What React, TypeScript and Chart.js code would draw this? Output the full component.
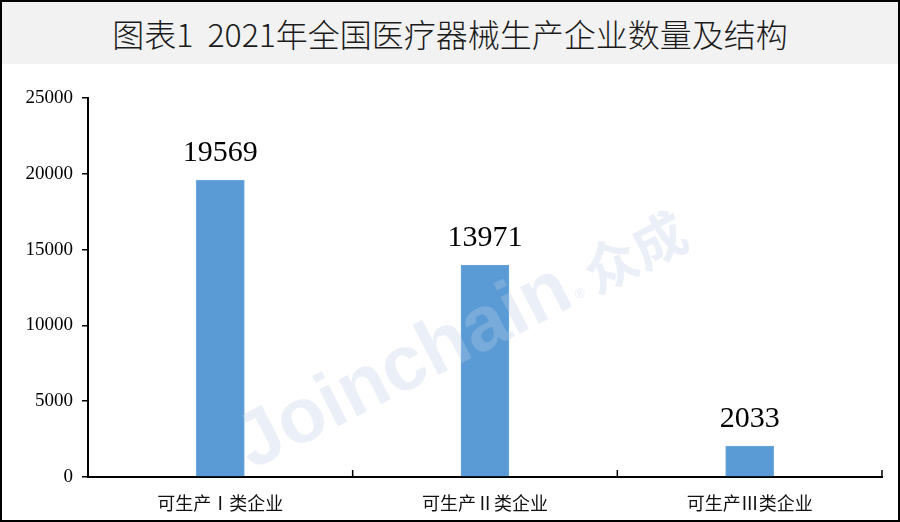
import React, { useEffect, useRef } from "react";
import { Chart, registerables } from "chart.js";

Chart.register(...registerables);

const categories = ["可生产Ⅰ类企业", "可生产Ⅱ类企业", "可生产Ⅲ类企业"];
const companyCounts = [19569, 13971, 2033];
const yTicks = [0, 5000, 10000, 15000, 20000, 25000];
const titleText = "图表1  2021年全国医疗器械生产企业数量及结构";

const CANVAS_W = 896;
const CANVAS_H = 456;

const xTickPlugin = {
  id: "xTickMarks",
  afterDraw(chart: any) {
    const x = chart.scales.x;
    const ctx = chart.ctx;
    const n = categories.length;
    if (n < 1) return;
    const step = n > 1 ? x.getPixelForValue(1) - x.getPixelForValue(0) : x.width;
    const bottom = chart.chartArea.bottom;
    ctx.save();
    ctx.strokeStyle = "#000";
    ctx.lineWidth = 1.5;
    for (let i = 0; i < n; i++) {
      const bx = x.getPixelForValue(i) + step / 2;
      ctx.beginPath();
      ctx.moveTo(bx, bottom);
      ctx.lineTo(bx, bottom - 7);
      ctx.stroke();
    }
    ctx.restore();
  },
};

const watermarkPlugin = {
  id: "watermark",
  afterDatasetsDraw(chart: any) {
    const ctx = chart.ctx;
    ctx.save();
    ctx.translate(250, 406);
    ctx.rotate((-27 * Math.PI) / 180);
    ctx.fillStyle = "rgba(190,205,232,0.3)";
    ctx.textBaseline = "alphabetic";
    ctx.font = "bold 78px 'Liberation Sans', Arial, sans-serif";
    ctx.fillText("Joinchain", 0, 0);
    const w = ctx.measureText("Joinchain").width;
    ctx.font = "bold 14px 'Liberation Sans', Arial, sans-serif";
    ctx.fillText("®", w + 3, -4);
    ctx.font = "bold 54px 'Noto Sans CJK SC', sans-serif";
    ctx.fillText("众成", w + 22, 0);
    ctx.restore();
  },
};

const valueLabelPlugin = {
  id: "valueLabels",
  afterDatasetsDraw(chart: any) {
    const ctx = chart.ctx;
    const meta = chart.getDatasetMeta(0);
    ctx.save();
    ctx.fillStyle = "#000";
    ctx.font = "30px 'Liberation Serif', 'Times New Roman', serif";
    ctx.textAlign = "center";
    ctx.textBaseline = "alphabetic";
    meta.data.forEach((bar: any, i: number) => {
      ctx.fillText(String(companyCounts[i]), bar.x, bar.y - 19);
    });
    ctx.restore();
  },
};

export default function App() {
  const canvasRef = useRef<HTMLCanvasElement | null>(null);

  useEffect(() => {
    document.body.style.margin = "0";
    const canvas = canvasRef.current;
    if (!canvas) return;
    const chart = new Chart(canvas, {
      type: "bar",
      data: {
        labels: categories,
        datasets: [
          {
            data: companyCounts,
            backgroundColor: "#5b9bd5",
            borderColor: "#6aa7dd",
            borderWidth: 1,
            barThickness: 48,
          },
        ],
      },
      options: {
        animation: false,
        responsive: false,
        maintainAspectRatio: false,
        layout: { padding: { left: 0, right: 16, top: 34, bottom: 0 } },
        plugins: {
          legend: { display: false },
          tooltip: { enabled: false },
          title: { display: false },
        },
        scales: {
          x: {
            grid: { display: false },
            border: { display: true, color: "#000", width: 2 },
            ticks: {
              color: "#111",
              padding: 7,
              font: { family: "'Noto Sans CJK SC', sans-serif", size: 18 },
              maxRotation: 0,
            },
            afterFit(scale: any) {
              scale.height = 43;
            },
          },
          y: {
            min: 0,
            max: 25000,
            afterBuildTicks(scale: any) {
              scale.ticks = yTicks.map((v) => ({ value: v }));
            },
            grid: {
              drawOnChartArea: false,
              drawTicks: true,
              tickLength: 6,
              color: "#000",
              lineWidth: 1.5,
            },
            border: { display: true, color: "#000", width: 2 },
            ticks: {
              color: "#000",
              padding: 9,
              font: { family: "'Liberation Serif', 'Times New Roman', serif", size: 19 },
              callback: (v: any) => String(v),
            },
            afterFit(scale: any) {
              scale.width = 86;
            },
          },
        },
      },
      plugins: [xTickPlugin, watermarkPlugin, valueLabelPlugin],
    });
    return () => chart.destroy();
  }, []);

  return (
    <div
      style={{
        width: 900,
        height: 522,
        boxSizing: "border-box",
        border: "2px solid #000",
        background: "#fff",
        overflow: "hidden",
      }}
    >
      <div
        style={{
          height: 62,
          background: "#f2f2f2",
          textAlign: "center",
          lineHeight: "62px",
          fontFamily: "'Noto Sans CJK SC', sans-serif",
          fontSize: 32,
          fontWeight: 300,
          color: "#1a1a1a",
          whiteSpace: "pre",
        }}
      >
        {titleText}
      </div>
      <canvas
        ref={canvasRef}
        width={CANVAS_W}
        height={CANVAS_H}
        style={{ display: "block", width: CANVAS_W, height: CANVAS_H }}
      />
    </div>
  );
}
